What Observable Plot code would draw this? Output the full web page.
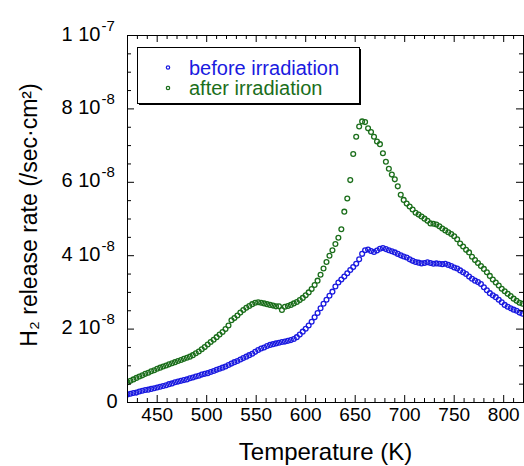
<!DOCTYPE html>
<html><head><meta charset="utf-8">
<script src="https://cdn.jsdelivr.net/npm/d3@7"></script>
<script src="https://cdn.jsdelivr.net/npm/@observablehq/plot@0.6"></script>
<style>body{margin:0;background:#fff} svg{display:block}</style>
</head><body><div id="chart"></div>
<script>
// Temperature (K)
const temperature = [
420,423,426,429,432,435,438,441,444,447,
450,453,456,459,462,465,468,471,474,477,
480,483,486,489,492,495,498,501,504,507,
510,513,516,519,522,525,528,531,534,537,
540,543,546,549,552,555,558,561,564,567,
570,573,576,579,582,585,588,591,594,597,
600,603,606,609,612,615,618,621,624,627,
630,633,636,639,642,645,648,651,654,657,
660,663,666,669,672,675,678,681,684,687,
690,693,696,699,702,705,708,711,714,717,
720,723,726,729,732,735,738,741,744,747,
750,753,756,759,762,765,768,771,774,777,
780,783,786,789,792,795,798,801,804,807,
810,813,816,819];
// H2 release rate, units of 1e-8 /sec·cm²
const before = [
0.22,0.24,0.26,0.27,0.30,0.32,0.34,0.35,0.37,0.39,
0.41,0.43,0.45,0.47,0.50,0.52,0.55,0.57,0.59,0.61,
0.63,0.66,0.68,0.71,0.73,0.76,0.78,0.80,0.83,0.86,
0.89,0.92,0.95,0.98,1.02,1.06,1.10,1.13,1.17,1.21,
1.25,1.29,1.33,1.38,1.43,1.47,1.50,1.54,1.57,1.59,
1.61,1.63,1.65,1.66,1.68,1.70,1.73,1.78,1.85,1.93,
2.01,2.10,2.20,2.32,2.44,2.57,2.69,2.80,2.91,3.02,
3.16,3.27,3.35,3.43,3.52,3.61,3.69,3.78,3.90,4.05,
4.15,4.17,4.13,4.10,4.14,4.19,4.21,4.18,4.15,4.12,
4.09,4.05,4.01,3.98,3.95,3.90,3.86,3.83,3.81,3.79,
3.80,3.82,3.80,3.78,3.79,3.78,3.77,3.78,3.75,3.72,
3.68,3.65,3.60,3.55,3.50,3.43,3.37,3.32,3.28,3.23,
3.14,3.06,2.98,2.92,2.87,2.80,2.73,2.66,2.61,2.57,
2.53,2.50,2.45,2.42];
const after = [
0.55,0.59,0.63,0.67,0.71,0.74,0.78,0.81,0.85,0.88,
0.92,0.95,0.98,1.01,1.04,1.07,1.10,1.13,1.16,1.19,
1.22,1.25,1.29,1.34,1.39,1.45,1.51,1.58,1.65,1.71,
1.78,1.85,1.92,2.00,2.10,2.24,2.30,2.37,2.45,2.52,
2.58,2.63,2.68,2.72,2.73,2.72,2.70,2.68,2.66,2.64,
2.62,2.62,2.52,2.61,2.63,2.66,2.70,2.74,2.79,2.85,
2.92,3.00,3.09,3.20,3.32,3.48,3.65,3.83,4.00,4.15,
4.32,4.49,4.72,5.20,5.56,6.06,6.77,7.24,7.52,7.66,
7.64,7.47,7.37,7.24,7.11,7.04,6.79,6.56,6.37,6.21,
6.08,5.89,5.66,5.52,5.42,5.34,5.26,5.17,5.12,5.07,
5.01,4.95,4.88,4.87,4.85,4.80,4.74,4.69,4.64,4.59,
4.53,4.45,4.33,4.25,4.16,4.09,3.97,3.88,3.80,3.72,
3.64,3.55,3.45,3.35,3.27,3.19,3.10,3.03,2.96,2.90,
2.83,2.77,2.72,2.69];

const seriesNames = ["before irradiation", "after irradiation"];
const seriesColors = ["#1a1ae0", "#1b6e1b"];
const xTickValues = [450, 500, 550, 600, 650, 700, 750, 800];
const xTickLabels = ["450", "500", "550", "600", "650", "700", "750", "800"];
const yTickValues = [0, 2, 4, 6, 8, 10];
const yTickBase = ["0", "2 10", "4 10", "6 10", "8 10", "1 10"];
const yTickExp = ["", "-8", "-8", "-8", "-8", "-7"];
const xLabel = "Temperature (K)";
const yLabel = "H₂ release rate (/sec·cm²)";

const W = 524, H = 466, mL = 127, mR = 1, mT = 35, mB = 64;
const pw = W - mL - mR, ph = H - mT - mB;
const FONT = "'Liberation Sans', Arial, Helvetica, sans-serif";

const rows = [];
temperature.forEach((t, i) => rows.push({t, v: before[i], s: seriesNames[0]}));
temperature.forEach((t, i) => rows.push({t, v: after[i], s: seriesNames[1]}));

const xMinor = d3.range(430, 820, 10).filter(d => d % 50 !== 0);
const yMinor = d3.range(0.5, 10, 0.5).filter(d => d % 2 !== 0);
const yIdx = yTickValues.map((d, i) => i);

const chart = Plot.plot({
  width: W, height: H,
  marginLeft: mL, marginRight: mR, marginTop: mT, marginBottom: mB,
  style: {fontFamily: FONT, background: "#fff", overflow: "visible", color: "#000"},
  x: {domain: [420, 820], axis: null},
  y: {domain: [0, 10], axis: null},
  color: {domain: seriesNames, range: seriesColors},
  marks: [
    Plot.dot(rows, {x: "t", y: "v", stroke: "s", r: 2.4, strokeWidth: 1.3, fill: "none", clip: true}),
    Plot.frame({stroke: "#000", strokeWidth: 1}),
    // inward ticks
    Plot.ruleX(xTickValues, {x: d => d, insetTop: ph - 7, stroke: "#000"}),
    Plot.ruleX(xTickValues, {x: d => d, insetBottom: ph - 7, stroke: "#000"}),
    Plot.ruleX(xMinor, {x: d => d, insetTop: ph - 4, stroke: "#000"}),
    Plot.ruleX(xMinor, {x: d => d, insetBottom: ph - 4, stroke: "#000"}),
    Plot.ruleY(yTickValues, {y: d => d, insetRight: pw - 7, stroke: "#000"}),
    Plot.ruleY(yTickValues, {y: d => d, insetLeft: pw - 7, stroke: "#000"}),
    Plot.ruleY(yMinor, {y: d => d, insetRight: pw - 4, stroke: "#000"}),
    Plot.ruleY(yMinor, {y: d => d, insetLeft: pw - 4, stroke: "#000"}),
    // x tick labels
    Plot.text(xTickValues, {x: d => d, text: (d, i) => xTickLabels[i], frameAnchor: "bottom",
      lineAnchor: "top", dy: 5, fontSize: 19, fill: "#000"}),
    // y tick labels
    Plot.text(yIdx.filter(i => yTickExp[i] === ""), {y: i => yTickValues[i], text: i => yTickBase[i],
      frameAnchor: "left", textAnchor: "end", lineAnchor: "bottom", dx: -10, dy: 5, fontSize: 20, fill: "#000"}),
    Plot.text(yIdx.filter(i => yTickExp[i] !== ""), {y: i => yTickValues[i], text: i => yTickBase[i],
      frameAnchor: "left", textAnchor: "end", lineAnchor: "bottom", dx: -27, dy: 5, fontSize: 20, fill: "#000"}),
    Plot.text(yIdx.filter(i => yTickExp[i] !== ""), {y: i => yTickValues[i], text: i => yTickExp[i],
      frameAnchor: "left", textAnchor: "start", lineAnchor: "bottom", dx: -26, dy: -5, fontSize: 15, fill: "#000"}),
    // axis titles
    Plot.text([xLabel], {text: d => d, frameAnchor: "bottom", lineAnchor: "bottom", dy: 57, fontSize: 24, fill: "#000"}),
    Plot.text([yLabel], {text: d => d, frameAnchor: "left", rotate: -90, textAnchor: "middle",
      lineAnchor: "bottom", dx: -91, dy: -4, fontSize: 23, fill: "#000"})
  ]
});
document.getElementById("chart").appendChild(chart);

// legend box
const svg = d3.select(chart);
const lg = svg.append("g").attr("font-family", FONT).attr("text-anchor", "start");
lg.append("rect").attr("x", 139).attr("y", 49).attr("width", 222).attr("height", 56).attr("fill", "#000");
lg.append("rect").attr("x", 137.5).attr("y", 47.5).attr("width", 222).attr("height", 56)
  .attr("fill", "#fff").attr("stroke", "#000").attr("stroke-width", 1);
const legY = [67.5, 88];
seriesNames.forEach((name, i) => {
  lg.append("circle").attr("cx", 168).attr("cy", legY[i]).attr("r", 1.7)
    .attr("fill", "none").attr("stroke", seriesColors[i]).attr("stroke-width", 1.2);
  lg.append("text").attr("x", 189).attr("y", legY[i] + 7).attr("font-size", 20)
    .attr("text-anchor", "start").attr("fill", seriesColors[i]).text(name);
});
</script>
</body></html>
